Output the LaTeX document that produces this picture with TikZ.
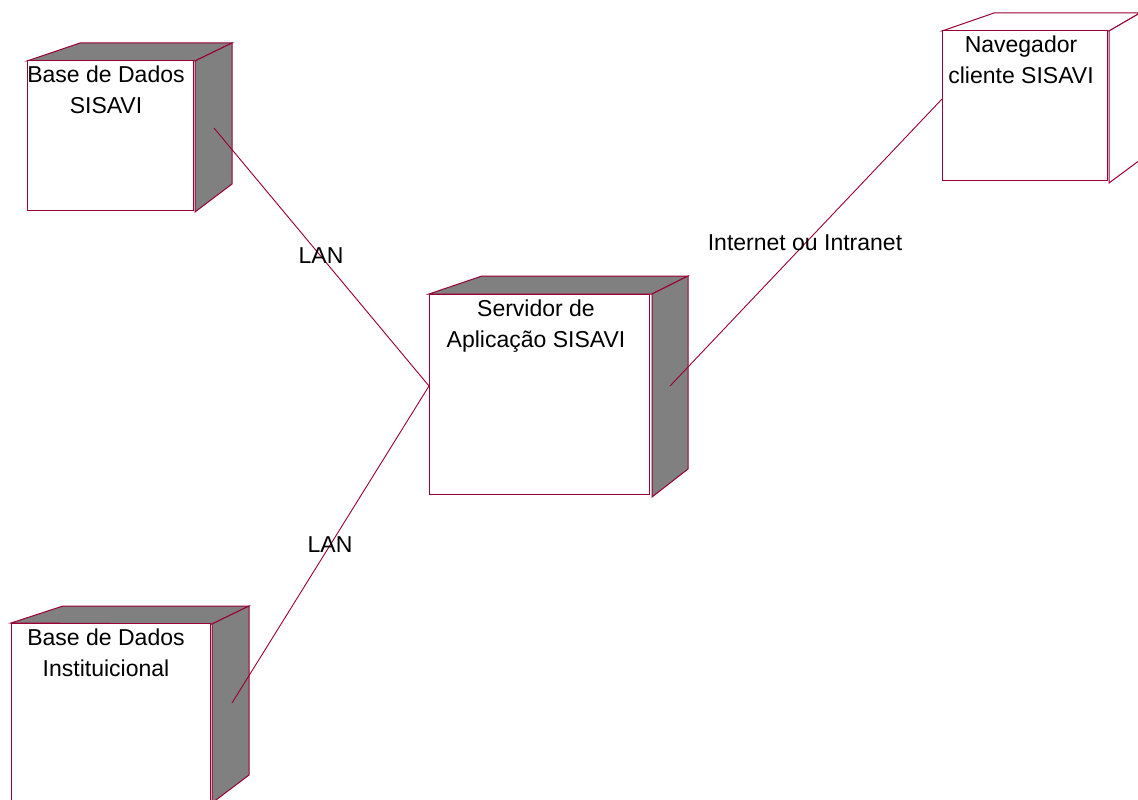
\documentclass[tikz,border=0pt]{standalone}
\usepackage{fontspec}
\setmainfont{Liberation Sans}
\definecolor{edge}{RGB}{153,0,51}
\definecolor{side}{RGB}{128,128,128}
\tikzset{
  x=1pt, y=-1pt,
  face/.style={draw=edge, line width=1pt, fill=white, rectangle, inner sep=0pt},
  shade3d/.style={draw=edge, line width=1pt, fill=side, line join=miter},
  open3d/.style={draw=edge, line width=1pt, fill=white},
  link/.style={draw=edge, line width=0.9pt},
  title/.style={font=\fontsize{23}{31}\selectfont, align=center, anchor=north, inner sep=0pt, text=black},
  lab/.style={font=\fontsize{23}{28}\selectfont, inner sep=0pt, text=black}
}
\begin{document}
\begin{tikzpicture}
\useasboundingbox (0,0) rectangle (1138,800);
\clip (0,0) rectangle (1138,800);
\fill[white] (0,0) rectangle (1138,800);

% Base de Dados SISAVI
\fill[white] (27,61) -- (80,43) -- (232,43) -- (195,61) -- cycle;
\path[shade3d] (27,61) -- (80,43) -- (232,43) -- (195,61) -- cycle;
\path[shade3d] (195,61) -- (232,43) -- (232,184) -- (195,212) -- cycle;
\node[face, minimum width=166pt, minimum height=149pt] (db1) at (110,135.5) {};
\node[title] (db1t) at (106,66) {Base de Dados\\SISAVI};

% Servidor
\path[shade3d] (429,294) -- (482,276) -- (688,276) -- (652,294) -- cycle;
\path[shade3d] (652,294) -- (688,276) -- (688,469) -- (652,497) -- cycle;
\node[face, minimum width=220pt, minimum height=200pt] (srv) at (539,394) {};
\node[title] (srvt) at (536,300) {Servidor de\\Aplicação SISAVI};

% Navegador
\path[open3d] (942,31) -- (994,13) -- (1140,13) -- (1109,31) -- cycle;
\path[open3d] (1109,31) -- (1140,13) -- (1140,160) -- (1109,183) -- cycle;
\node[face, minimum width=165pt, minimum height=149pt] (nav) at (1024.5,105.5) {};
\node[title] (navt) at (1021,36) {Navegador\\cliente SISAVI};

% Base de Dados Institucional
\path[shade3d] (11,623) -- (63,606) -- (249,606) -- (212,624) -- cycle;
\path[shade3d] (212,624) -- (249,606) -- (249,775) -- (212,803) -- cycle;
\node[face, minimum width=199pt, minimum height=190pt] (db2) at (110.5,718) {};
\node[title] (db2t) at (106,629) {Base de Dados\\Instituicional};

% connector end points
\coordinate (db1c) at (214,128);
\coordinate (srvl) at (429,386);
\coordinate (srvr) at (670,386);
\coordinate (navc) at (942,99);
\coordinate (db2c) at (232,703);

\draw[link] (db1c) -- (srvl);
\draw[link] (db2c) -- (srvl);
\draw[link] (srvr) -- (navc);

\node[lab] (lan1) at (321,256) {LAN};
\node[lab] (lan2) at (330,545) {LAN};
\node[lab] (inet) at (805,243) {Internet ou Intranet};
\end{tikzpicture}
\end{document}
